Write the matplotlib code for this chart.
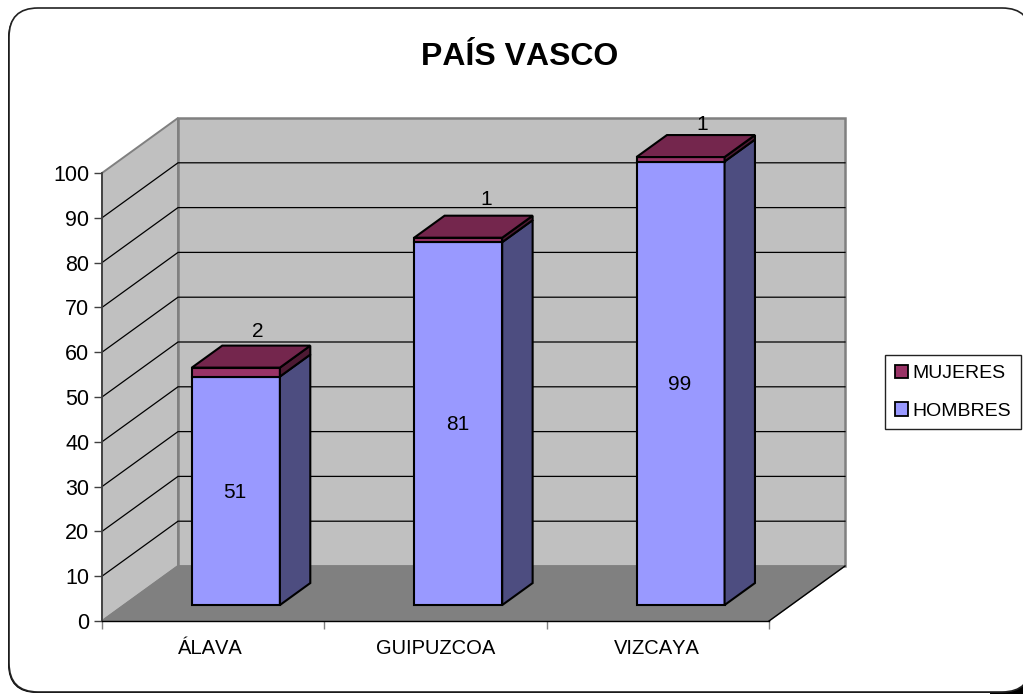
import matplotlib
matplotlib.use("Agg")
import matplotlib.pyplot as plt
from matplotlib.patches import FancyBboxPatch, Patch, Polygon, Rectangle

plt.rcParams['font.family'] = ['Liberation Sans', 'DejaVu Sans']
plt.rcParams['text.kerning_factor'] = 6

categories = ["ÁLAVA", "GUIPUZCOA", "VIZCAYA"]
hombres = [51, 81, 99]
mujeres = [2, 1, 1]
y_ticks = [0, 10, 20, 30, 40, 50, 60, 70, 80, 90, 100]

W, H = 1023, 694
fig = plt.figure(figsize=(W / 100, H / 100), dpi=100, facecolor="white")

# frame, in pixels
bg = fig.add_axes([0, 0, 1, 1])
bg.set_xlim(0, W)
bg.set_ylim(H, 0)
bg.axis("off")
bg.add_patch(Rectangle((990, 665), 40, 35, fc="black", ec="none"))
bg.add_patch(FancyBboxPatch((8, 9), 1022, 684, boxstyle="round,pad=0,rounding_size=29",
                            fc="black", ec="none"))
bg.add_patch(FancyBboxPatch((9, 8), 1022, 684, boxstyle="round,pad=0,rounding_size=29",
                            fc="white", ec="#222222", lw=1.2))

# front plane of the 3d box
ax = fig.add_axes([102 / W, 1 - 621 / H, 667 / W, 448 / H])
ax.set_xlim(0, 3)
ax.set_ylim(0, 100)
ax.patch.set_alpha(0)

# shift of the whole depth, in data units
DX = 76 / (667 / 3)
DY = 55 / 4.48


def pt(x, y, d):
    return (x + d * DX, y + d * DY)


def face(points, fc, ec="black", lw=1.5, z=3):
    ax.add_patch(Polygon(points, closed=True, fc=fc, ec=ec, lw=lw, zorder=z,
                         clip_on=False, joinstyle="miter"))


# walls and floor
face([pt(0, 0, 0), pt(0, 0, 1), pt(0, 100, 1), pt(0, 100, 0)], "#c0c0c0", "#808080", 1.4, 1)
face([pt(0, 0, 1), pt(3, 0, 1), pt(3, 100, 1), pt(0, 100, 1)], "#c0c0c0", "#808080", 1.8, 1)
face([pt(0, 0, 0), pt(3, 0, 0), pt(3, 0, 1), pt(0, 0, 1)], "#808080", "#808080", 1, 1)
ax.plot(*zip(pt(3, 0, 0), pt(3, 0, 1)), color="black", lw=1, zorder=1.5, clip_on=False)

for t in y_ticks[1:-1]:
    xs, ys = zip(pt(0, t, 0), pt(0, t, 1), pt(3, t, 1))
    ax.plot(xs, ys, color="black", lw=0.9, zorder=2, clip_on=False)

# bars
bar_w = 0.396
d0, d1 = 0.29, 0.69
colors = {"h": ("#9999ff", "#4d4d80"), "m": ("#993366", "#4d1a33")}
top_colour = "#74264d"
for i in range(3):
    x0 = i + 0.503 - bar_w / 2
    x1 = i + 0.503 + bar_w / 2
    for base, val, key in [(0, hombres[i], "h"), (hombres[i], mujeres[i], "m")]:
        top = base + val
        face([pt(x0, base, d0), pt(x1, base, d0), pt(x1, top, d0), pt(x0, top, d0)], colors[key][0])
        face([pt(x1, base, d0), pt(x1, base, d1), pt(x1, top, d1), pt(x1, top, d0)], colors[key][1])
    top = hombres[i] + mujeres[i]
    face([pt(x0, top, d0), pt(x1, top, d0), pt(x1, top, d1), pt(x0, top, d1)], top_colour)

    cx, cy = pt(i + 0.5, hombres[i] / 2, d0)
    ax.text(cx, cy - 0.3, str(hombres[i]), ha="center", va="center", fontsize=15, zorder=5)

# labels of the top series sit above the bar
nudge_x = [0.0, 0.03, 0.0]
nudge_y = [8.1, 8.5, 7.3]
for i in range(3):
    cx, cy = pt(i + 0.5 + nudge_x[i], hombres[i] + mujeres[i], d0)
    ax.text(cx + 0.1, cy + nudge_y[i], str(mujeres[i]), ha="center", va="center",
            fontsize=15, zorder=2.2, clip_on=False)

# axes
for s in ["top", "right"]:
    ax.spines[s].set_visible(False)
ax.spines["left"].set_color("#404040")
ax.spines["left"].set_linewidth(1.3)
ax.spines["left"].set_zorder(2.5)
ax.spines["bottom"].set_color("black")
ax.spines["bottom"].set_linewidth(1)
ax.spines["bottom"].set_zorder(2.5)
ax.set_yticks(y_ticks)
ax.set_yticklabels([str(t) for t in y_ticks], fontsize=15.5)
ax.tick_params(axis="y", length=6, width=1, pad=3, color="#404040")
ax.set_xticks([0, 1, 2, 3])
ax.set_xticklabels([])
ax.tick_params(axis="x", length=6, width=1, color="#808080")
label_shift = [-3, 0, -1]
for i, c in enumerate(categories):
    ax.annotate(c, (i + 0.5, 0), xytext=(label_shift[i], -28), textcoords="offset pixels",
                ha="center", va="center", fontsize=14.5)

bg.text(520, 57, "PAÍS VASCO", ha="center", va="center", fontsize=23, fontweight="bold")

# legend
handles = [Patch(fc="#993366", ec="black", lw=1.3, label="MUJERES"),
           Patch(fc="#9999ff", ec="black", lw=1.3, label="HOMBRES")]
leg = bg.legend(handles=handles, loc="upper left", bbox_to_anchor=(885 / W, 1 - 355 / H),
                bbox_transform=fig.transFigure, fontsize=14, frameon=True, fancybox=False,
                edgecolor="#222222", facecolor="white", framealpha=1, handlelength=0.68,
                handleheight=0.68, handletextpad=0.22, labelspacing=1.03, borderpad=0.5,
                borderaxespad=0)
leg.get_frame().set_linewidth(1)

fig.savefig("out.png", dpi=100)
